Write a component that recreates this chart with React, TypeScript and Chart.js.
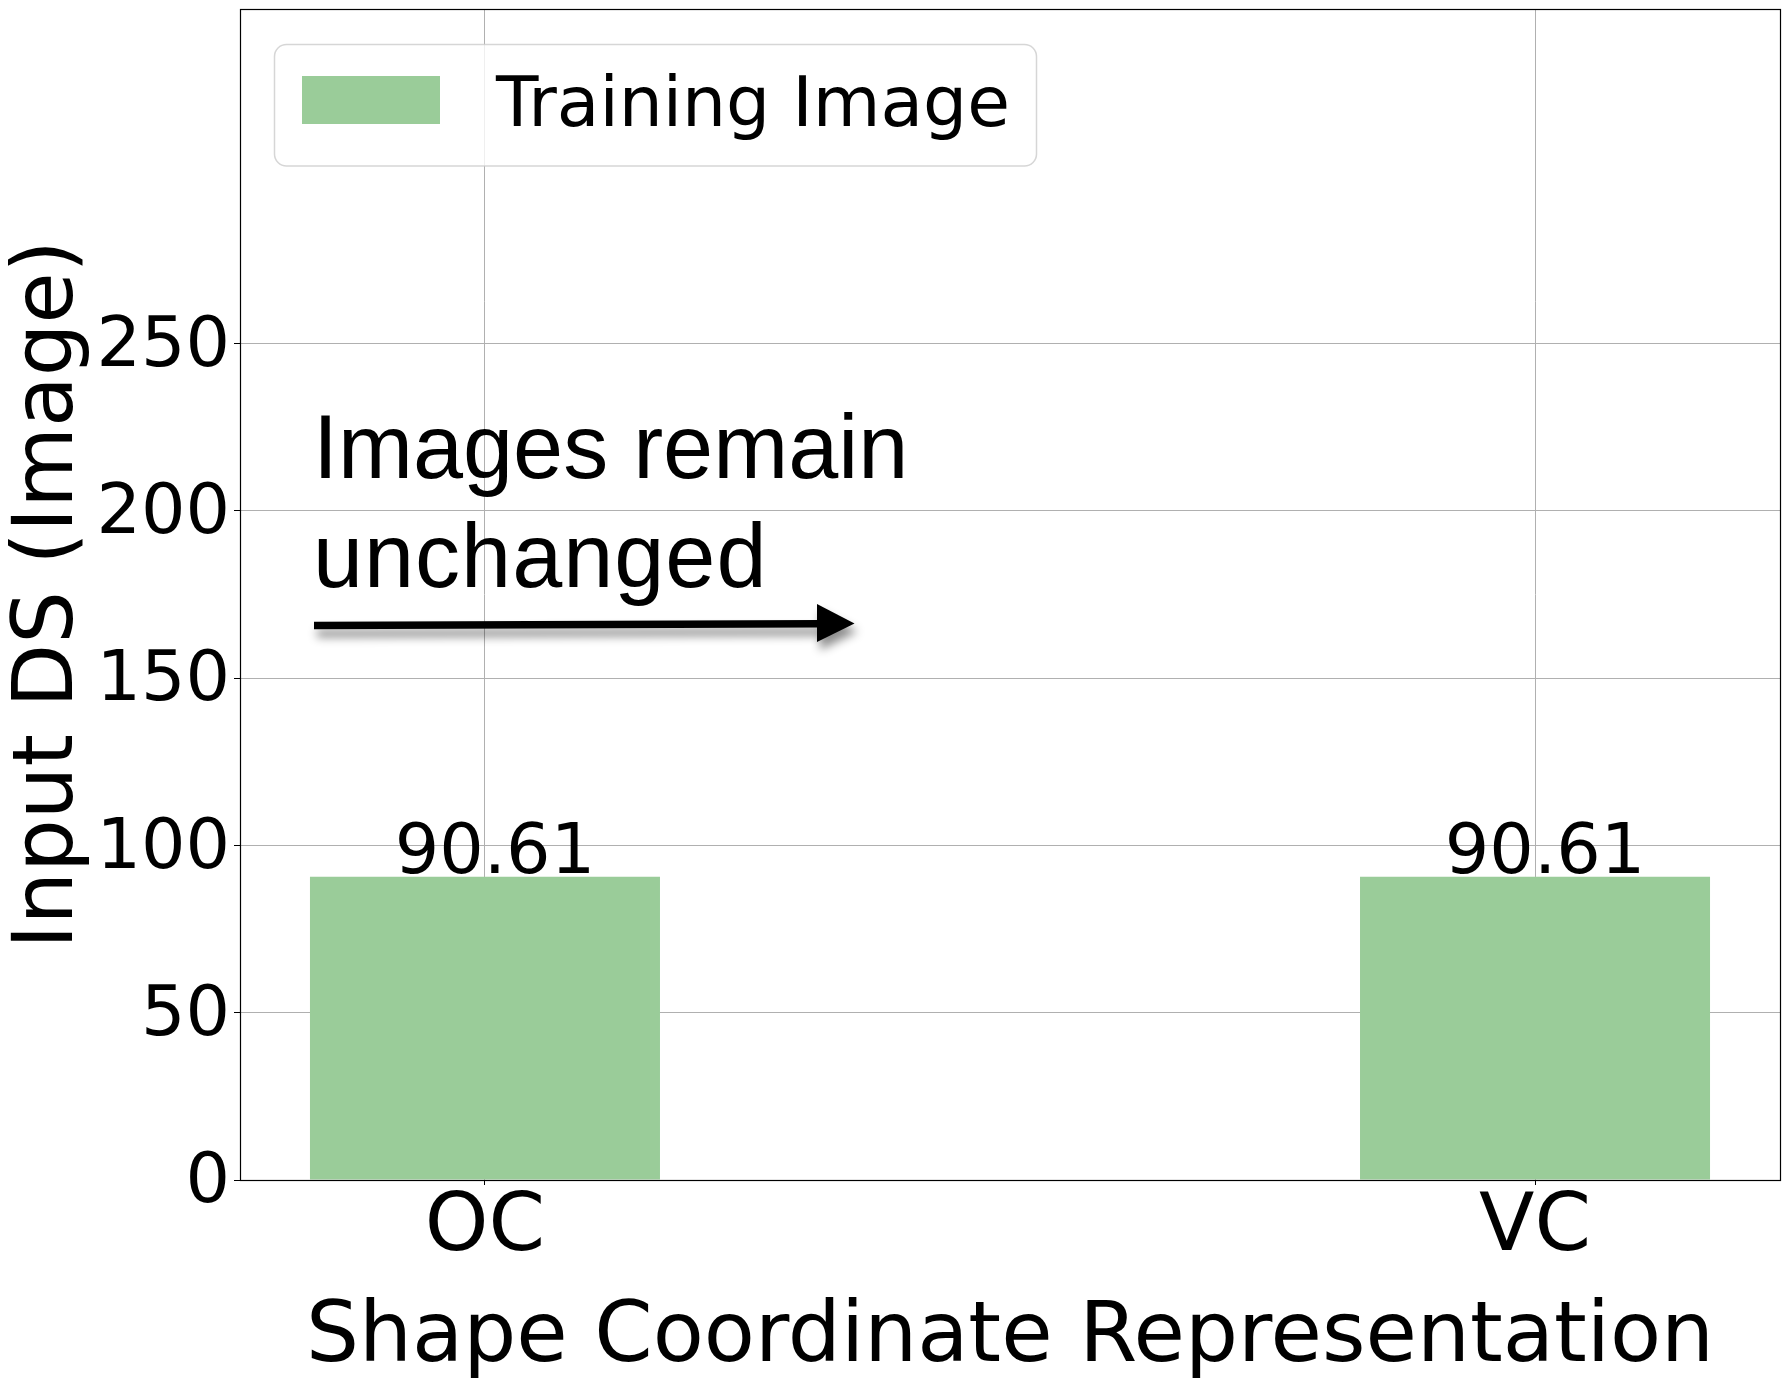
import React, { useEffect, useRef } from "react";
import { Chart, registerables } from "chart.js";

Chart.register(...registerables);

const categories = ["OC", "VC"];
const trainingImage = [90.61, 90.61];
const yTickValues = [0, 50, 100, 150, 200, 250];
const seriesLabel = "Training Image";
const xTitle = "Shape Coordinate Representation";
const yTitle = "Input DS (Image)";
const noteLines = ["Images remain", "unchanged"];

const W = 1790;
const H = 1389;
const BAR = "#9acc99";
const FONT = "'DejaVu Sans', sans-serif";
const NOTE_FONT = "'Liberation Sans', Arial, sans-serif";

export default function App() {
  const ref = useRef<HTMLCanvasElement>(null);

  useEffect(() => {
    const canvas = ref.current;
    if (!canvas) return;

    const overlay = {
      id: "overlay",
      afterDraw(chart: any) {
        const { ctx, chartArea: a } = chart;
        ctx.save();

        // spines
        ctx.strokeStyle = "#000";
        ctx.lineWidth = 1.2;
        ctx.strokeRect(a.left + 0.5, a.top + 0.5, a.right - a.left, a.bottom - a.top);

        // value labels
        const meta = chart.getDatasetMeta(0);
        ctx.fillStyle = "#000";
        ctx.font = `70px ${FONT}`;
        ctx.textAlign = "center";
        ctx.textBaseline = "alphabetic";
        meta.data.forEach((el: any, i: number) => {
          ctx.fillText(trainingImage[i].toFixed(2), el.x + 10, el.y - 4.3);
        });

        // annotation text
        ctx.font = `90px ${NOTE_FONT}`;
        ctx.textAlign = "left";
        ctx.fillText(noteLines[0], a.left + 73, a.top + 469.3);
        ctx.save();
        (ctx as any).letterSpacing = "1px";
        ctx.fillText(noteLines[1], a.left + 73, a.top + 577.7);
        ctx.restore();

        // annotation arrow with shadow
        ctx.save();
        ctx.shadowColor = "rgba(0,0,0,0.45)";
        ctx.shadowBlur = 10;
        ctx.shadowOffsetX = 3;
        ctx.shadowOffsetY = 8;
        ctx.beginPath();
        ctx.moveTo(a.left + 74, a.top + 612.7);
        ctx.lineTo(a.left + 578, a.top + 610.9);
        ctx.lineTo(a.left + 578, a.top + 618.5);
        ctx.lineTo(a.left + 74, a.top + 620.3);
        ctx.closePath();
        ctx.fillStyle = "#000";
        ctx.fill();
        ctx.beginPath();
        ctx.moveTo(a.left + 577, a.top + 595);
        ctx.lineTo(a.left + 614.5, a.top + 614.5);
        ctx.lineTo(a.left + 577, a.top + 633);
        ctx.closePath();
        ctx.fill();
        ctx.restore();

        // legend
        const lx = a.left + 34.5;
        const ly = a.top + 35.5;
        const lw = 762;
        const lh = 121.5;
        ctx.beginPath();
        ctx.roundRect(lx, ly, lw, lh, 12);
        ctx.fillStyle = "rgba(255,255,255,0.8)";
        ctx.fill();
        ctx.strokeStyle = "rgba(204,204,204,0.8)";
        ctx.lineWidth = 1.5;
        ctx.stroke();
        ctx.fillStyle = BAR;
        ctx.fillRect(a.left + 62, a.top + 67, 138, 48);
        ctx.fillStyle = "#000";
        ctx.font = `69.5px ${FONT}`;
        ctx.textAlign = "left";
        ctx.textBaseline = "alphabetic";
        ctx.fillText(seriesLabel, a.left + 256, a.top + 116.7);

        ctx.restore();
      },
    };

    const chart = new Chart(canvas, {
      type: "bar",
      data: {
        datasets: [
          {
            label: seriesLabel,
            data: categories.map((_, i) => ({ x: i, y: trainingImage[i] })),
            backgroundColor: BAR,
            borderWidth: 0,
            barPercentage: 1 / 3,
            categoryPercentage: 1,
          },
        ],
      },
      options: {
        responsive: false,
        animation: false,
        devicePixelRatio: 1,
        layout: { padding: { top: 9, right: 10, left: 0, bottom: 0 } },
        plugins: { legend: { display: false }, tooltip: { enabled: false } },
        scales: {
          x: {
            type: "linear",
            min: -0.2333,
            max: 1.2333,
            offset: false,
            z: 1,
            afterBuildTicks: (s: any) => {
              s.ticks = categories.map((_, i) => ({ value: i }));
            },
            afterFit: (s: any) => {
              s.height = 209;
              s.paddingLeft = 0;
              s.paddingRight = 0;
            },
            grid: { offset: false, color: "#b0b0b0", lineWidth: 1, tickColor: "#000", tickLength: 5, drawTicks: true },
            border: { display: false },
            ticks: {
              color: "#000",
              font: { family: FONT, size: 81, lineHeight: 1 },
              padding: 3,
              autoSkip: false,
              maxRotation: 0,
              callback: (v: any) => categories[v] ?? "",
            },
            title: {
              display: true,
              text: xTitle,
              color: "#000",
              font: { family: FONT, size: 83.6, lineHeight: 1 },
              padding: { top: 0, bottom: 8 },
            },
          },
          y: {
            type: "linear",
            min: 0,
            max: 350,
            z: 1,
            afterBuildTicks: (s: any) => {
              s.ticks = yTickValues.map((v) => ({ value: v }));
            },
            afterFit: (s: any) => {
              s.width = 240;
              s.paddingTop = 0;
              s.paddingBottom = 0;
            },
            grid: { color: "#b0b0b0", lineWidth: 1, tickColor: "#000", tickLength: 6, drawTicks: true },
            border: { display: false },
            ticks: {
              color: "#000",
              font: { family: FONT, size: 70, lineHeight: 1 },
              padding: 4,
              labelOffset: 4,
              autoSkip: false,
            },
            title: {
              display: true,
              text: yTitle,
              color: "#000",
              font: { family: FONT, size: 83, lineHeight: 1 },
              padding: { top: 9, bottom: 0 },
            },
          },
        },
      },
      plugins: [overlay],
    } as any);

    return () => chart.destroy();
  }, []);

  return (
    <div style={{ position: "absolute", left: 0, top: 0, width: W, height: H, background: "#fff" }}>
      <canvas ref={ref} width={W} height={H} style={{ width: W, height: H, display: "block" }} />
    </div>
  );
}
